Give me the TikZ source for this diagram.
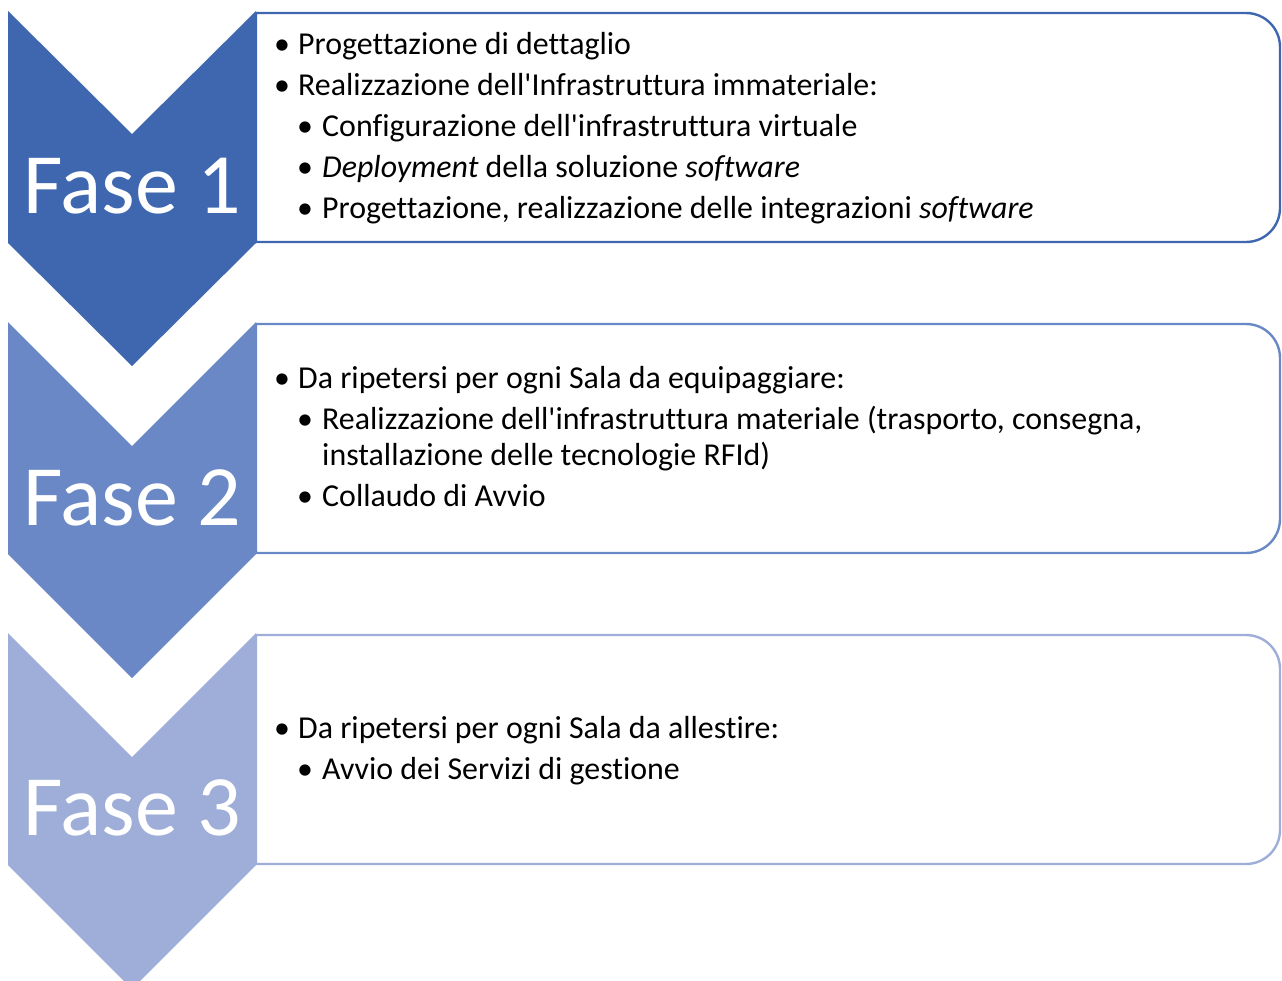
\documentclass[tikz,border=0pt]{standalone}
\usepackage{fontspec}
\setmainfont{Carlito}[Ligatures={NoCommon}]
\newcommand{\aq}{\textquotesingle}
\definecolor{cA}{HTML}{3F67B0}
\definecolor{cB}{HTML}{6A88C6}
\definecolor{cC}{HTML}{9FAED8}
\begin{document}
\begin{tikzpicture}[x=1pt,y=-1pt,
  boxline/.style={line width=2.4pt,fill=white},
  faselbl/.style={text=white,font=\fontsize{86}{100}\selectfont,inner sep=0pt,anchor=base},
  itemtxt/.style={font=\fontsize{31.9}{38}\selectfont,inner sep=0pt,anchor=base west},
  bul/.style={font=\fontsize{31.9}{38}\selectfont,inner sep=0pt,anchor=base}]
\useasboundingbox (0,0) rectangle (1282,980);
% boxes
\filldraw[boxline,draw=cA] (256,13) [rounded corners=34] -- (1280,13) -- (1280,242) [sharp corners] -- (256,242) -- cycle;
\filldraw[boxline,draw=cB] (256,324) [rounded corners=34] -- (1280,324) -- (1280,553) [sharp corners] -- (256,553) -- cycle;
\filldraw[boxline,draw=cC] (256,635) [rounded corners=34] -- (1280,635) -- (1280,864) [sharp corners] -- (256,864) -- cycle;
% chevrons
\fill[cA] (8,11) -- (132,134) -- (256,11) -- (256,243) -- (132,366) -- (8,243) -- cycle;
\fill[cB] (8,322) -- (132,446) -- (256,322) -- (256,554) -- (132,678) -- (8,554) -- cycle;
\fill[cC] (8,633) -- (132,757) -- (256,633) -- (256,865) -- (132,989) -- (8,865) -- cycle;
\node[faselbl] (f1) at (132,213) {Fase 1};
\node[faselbl] (f2) at (132,525) {Fase 2};
\node[faselbl] (f3) at (132,835) {Fase 3};
% box 1 text
\node[bul] (b11) at (282,54) {•};
\node[itemtxt] (t11) at (298,54) {Progettazione di dettaglio};
\node[bul] (b12) at (282,95) {•};
\node[itemtxt] (t12) at (298,95) {Realizzazione dell\aq Infrastruttura immateriale:};
\node[bul] (b13) at (305,136) {•};
\node[itemtxt] (t13) at (322,136) {Configurazione dell\aq infrastruttura virtuale};
\node[bul] (b14) at (305,177) {•};
\node[itemtxt] (t14) at (322,177) {\textit{Deployment} della soluzione \textit{software}};
\node[bul] (b15) at (305,218) {•};
\node[itemtxt] (t15) at (322,218) {Progettazione, realizzazione delle integrazioni \textit{software}};
% box 2 text
\node[bul] (b21) at (282,388) {•};
\node[itemtxt] (t21) at (298,388) {Da ripetersi per ogni Sala da equipaggiare:};
\node[bul] (b22) at (305,429) {•};
\node[itemtxt] (t22) at (322,429) {Realizzazione dell\aq infrastruttura materiale (trasporto, consegna,};
\node[itemtxt] (t23) at (322,465) {installazione delle tecnologie RFId)};
\node[bul] (b24) at (305,506) {•};
\node[itemtxt] (t24) at (322,506) {Collaudo di Avvio};
% box 3 text
\node[bul] (b31) at (282,738) {•};
\node[itemtxt] (t31) at (298,738) {Da ripetersi per ogni Sala da allestire:};
\node[bul] (b32) at (305,779) {•};
\node[itemtxt] (t32) at (322,779) {Avvio dei Servizi di gestione};
\end{tikzpicture}
\end{document}
